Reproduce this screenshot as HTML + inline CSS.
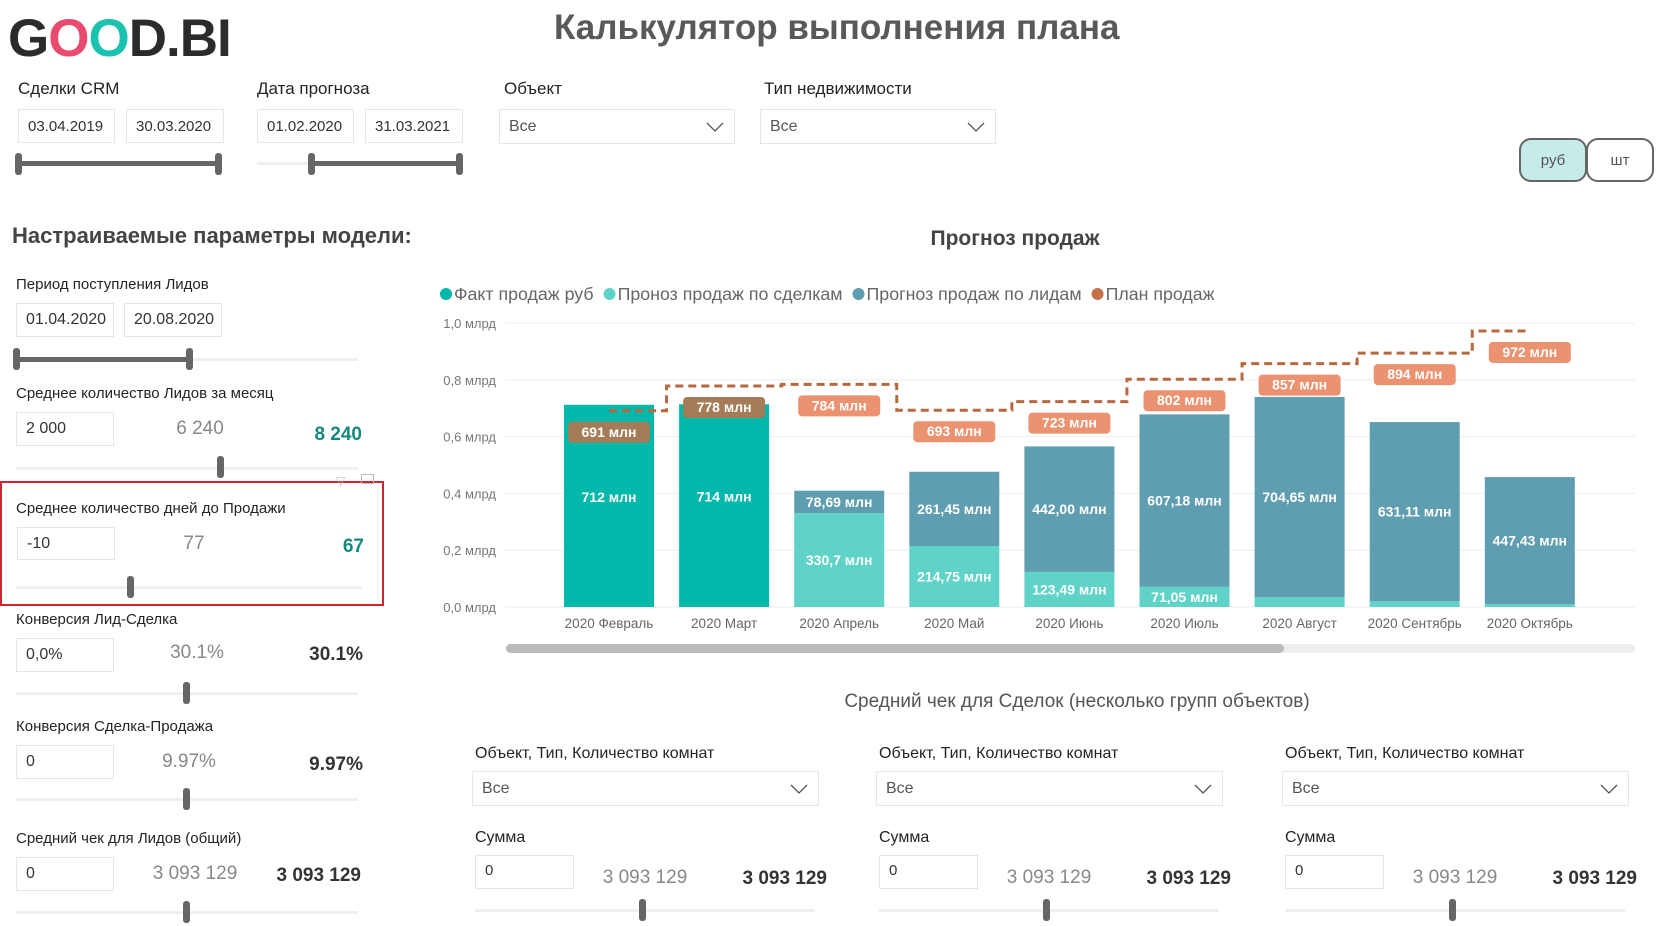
<!DOCTYPE html>
<html lang="ru"><head><meta charset="utf-8">
<style>
*{box-sizing:border-box;margin:0;padding:0}
body{width:1680px;height:926px;overflow:hidden;background:#fff;font-family:"Liberation Sans","DejaVu Sans",sans-serif;color:#333;position:relative}
.a{position:absolute;white-space:nowrap}
.lbl{font-size:17px;color:#252423}
.box{position:absolute;border:1px solid #e6e6e6;background:#fff;font-size:15px;color:#333;padding-left:9px;display:flex;align-items:center}
.dd{position:absolute;border:1px solid #e6e6e6;font-size:16px;color:#555;padding-left:9px;display:flex;align-items:center}
.dd svg{position:absolute;right:10px;top:50%;margin-top:-5px}
.track{position:absolute;height:3px;background:#f0f0f0}
.rng{position:absolute;height:5px;background:#666;border-radius:2px}
.knob{position:absolute;width:7px;height:22px;background:#666;border-radius:3px}
.plbl{font-size:15px;color:#252423}
.mid{font-size:19px;color:#888;transform:translateX(-50%)}
.big{font-size:19px;font-weight:bold;color:#333;transform:translateX(-100%)}
.teal{color:#138a7d}
</style></head><body>
<div class="a" style="left:8px;top:8px;font-size:53px;font-weight:bold;color:#2b2b2b;letter-spacing:-1px">G<span style="color:#e94b6f">O</span><span style="color:#1cc2b0">O</span>D.BI</div>
<div class="a" style="left:554px;top:8px;font-size:35px;font-weight:bold;color:#595959">Калькулятор выполнения плана</div>

<div class="a lbl" style="left:18px;top:79px">Сделки CRM</div>
<div class="box" style="left:18px;top:109px;width:97px;height:34px">03.04.2019</div>
<div class="box" style="left:126px;top:109px;width:98px;height:34px">30.03.2020</div>
<div class="rng" style="left:18px;top:161px;width:202px"></div>
<div class="knob" style="left:15px;top:153px"></div>
<div class="knob" style="left:215px;top:153px"></div>

<div class="a lbl" style="left:257px;top:79px">Дата прогноза</div>
<div class="box" style="left:257px;top:109px;width:97px;height:34px">01.02.2020</div>
<div class="box" style="left:365px;top:109px;width:98px;height:34px">31.03.2021</div>
<div class="track" style="left:257px;top:162px;width:54px"></div>
<div class="rng" style="left:311px;top:161px;width:149px"></div>
<div class="knob" style="left:308px;top:153px"></div>
<div class="knob" style="left:456px;top:153px"></div>

<div class="a lbl" style="left:504px;top:79px">Объект</div>
<div class="dd" style="left:499px;top:109px;width:236px;height:35px">Все<svg width="18" height="10"><path d="M1 1 L9 9 L17 1" fill="none" stroke="#555" stroke-width="1.3"/></svg></div>
<div class="a lbl" style="left:764px;top:79px">Тип недвижимости</div>
<div class="dd" style="left:760px;top:109px;width:236px;height:35px">Все<svg width="18" height="10"><path d="M1 1 L9 9 L17 1" fill="none" stroke="#555" stroke-width="1.3"/></svg></div>

<div class="a" style="left:1519px;top:138px;width:68px;height:44px;border:2px solid #666;border-radius:12px;background:#c5ece8;font-size:15px;color:#555;display:flex;align-items:center;justify-content:center">руб</div>
<div class="a" style="left:1586px;top:138px;width:68px;height:44px;border:2px solid #666;border-radius:12px;background:#fff;font-size:15px;color:#555;display:flex;align-items:center;justify-content:center">шт</div>

<div class="a" style="left:12px;top:223px;font-size:22px;font-weight:bold;color:#444">Настраиваемые параметры модели:</div>

<!-- Left panel -->
<div class="a plbl" style="left:16px;top:276px">Период поступления Лидов</div>
<div class="box" style="left:16px;top:303px;width:98px;height:34px;font-size:16px">01.04.2020</div>
<div class="box" style="left:124px;top:303px;width:98px;height:34px;font-size:16px">20.08.2020</div>
<div class="track" style="left:16px;top:358px;width:342px"></div>
<div class="rng" style="left:16px;top:357px;width:172px"></div>
<div class="knob" style="left:13px;top:348px"></div>
<div class="knob" style="left:186px;top:348px"></div>

<div class="a plbl" style="left:16px;top:385px">Среднее количество Лидов за месяц</div>
<div class="box" style="left:16px;top:412px;width:98px;height:34px;font-size:16px">2 000</div>
<div class="a mid" style="left:200px;top:418px">6 240</div>
<div class="a big teal" style="left:362px;top:424px">8 240</div>
<div class="track" style="left:16px;top:467px;width:342px"></div>
<div class="knob" style="left:217px;top:456px"></div>

<div class="a" style="left:0;top:481px;width:384px;height:125px;border:2px solid #d0242e"></div>
<div class="a" style="left:336px;top:474px;font-size:12px;color:#bbb">▽</div>
<div class="a" style="left:361px;top:474px;width:13px;height:10px;border:1px solid #bbb"></div>
<div class="a plbl" style="left:16px;top:500px">Среднее количество дней до Продажи</div>
<div class="box" style="left:17px;top:527px;width:98px;height:33px;font-size:16px">-10</div>
<div class="a mid" style="left:194px;top:533px">77</div>
<div class="a big teal" style="left:364px;top:536px">67</div>
<div class="track" style="left:16px;top:586px;width:346px"></div>
<div class="knob" style="left:127px;top:576px"></div>

<div class="a plbl" style="left:16px;top:611px">Конверсия Лид-Сделка</div>
<div class="box" style="left:16px;top:638px;width:98px;height:34px;font-size:16px">0,0%</div>
<div class="a mid" style="left:197px;top:642px">30.1%</div>
<div class="a big" style="left:363px;top:644px">30.1%</div>
<div class="track" style="left:16px;top:692px;width:342px"></div>
<div class="knob" style="left:183px;top:682px"></div>

<div class="a plbl" style="left:16px;top:718px">Конверсия Сделка-Продажа</div>
<div class="box" style="left:16px;top:745px;width:98px;height:34px;font-size:16px">0</div>
<div class="a mid" style="left:189px;top:751px">9.97%</div>
<div class="a big" style="left:363px;top:754px">9.97%</div>
<div class="track" style="left:16px;top:798px;width:342px"></div>
<div class="knob" style="left:183px;top:788px"></div>

<div class="a plbl" style="left:16px;top:830px">Средний чек для Лидов (общий)</div>
<div class="box" style="left:16px;top:857px;width:98px;height:34px;font-size:16px">0</div>
<div class="a mid" style="left:195px;top:863px">3 093 129</div>
<div class="a big" style="left:361px;top:865px">3 093 129</div>
<div class="track" style="left:16px;top:911px;width:342px"></div>
<div class="knob" style="left:183px;top:901px"></div>

<!-- Chart -->
<div class="a" style="left:1015px;top:227px;transform:translateX(-50%);font-size:21px;font-weight:bold;color:#444">Прогноз продаж</div>
<svg id="chart" class="a" style="left:0;top:0" width="1680" height="926"></svg>

<!-- Bottom -->
<div class="a" style="left:1077px;top:691px;transform:translateX(-50%);font-size:19px;color:#555">Средний чек для Сделок (несколько групп объектов)</div>
<div id="cols"></div>

<script>
// Chart data
const categories = ["2020 Февраль","2020 Март","2020 Апрель","2020 Май","2020 Июнь","2020 Июль","2020 Август","2020 Сентябрь","2020 Октябрь"];
const factSales = [712, 714, 0, 0, 0, 0, 0, 0, 0];
const dealForecast = [0, 0, 330.7, 214.75, 123.49, 71.05, 35, 20, 10];
const leadForecast = [0, 0, 78.69, 261.45, 442.00, 607.18, 704.65, 631.11, 447.43];
const planSales = [691, 778, 784, 693, 723, 802, 857, 894, 972];
const yTicks = [0, 0.2, 0.4, 0.6, 0.8, 1.0];
const yTickLabels = ["0,0 млрд","0,2 млрд","0,4 млрд","0,6 млрд","0,8 млрд","1,0 млрд"];
const dealLabels = ["","","330,7 млн","214,75 млн","123,49 млн","71,05 млн","","",""];
const leadLabels = ["","","78,69 млн","261,45 млн","442,00 млн","607,18 млн","704,65 млн","631,11 млн","447,43 млн"];

const NS = "http://www.w3.org/2000/svg";
const svg = document.getElementById("chart");
const X0 = 609, STEP = 115.1, BW = 90, Y0 = 607, Y1 = 323;
const xc = i => X0 + i * STEP;
const y = v => Y0 - (v / 1000) * (Y0 - Y1); // v in mln
function mk(tag, attrs, parent) {
  const e = document.createElementNS(NS, tag);
  for (const k in attrs) e.setAttribute(k, attrs[k]);
  (parent || svg).appendChild(e);
  return e;
}
// legend
const legend = [["Факт продаж руб","#01b8aa"],["Проноз продаж по сделкам","#5fd3c8"],["Прогноз продаж по лидам","#5f9db0"],["План продаж","#c5714a"]];
let lx = 440;
legend.forEach(([t, c]) => {
  const g = mk("g", {});
  
  
  mk("circle", {cx: lx + 6, cy: 294, r: 6, fill: c}, g);
  const tx = mk("text", {x: lx + 14, y: 300, "font-size": 17.8, fill: "#666", "font-family": "Liberation Sans, sans-serif"}, g);
  tx.textContent = t;
  lx += 14 + tx.getComputedTextLength() + 10;
});
// gridlines & y axis
yTicks.forEach((t, i) => {
  const gl = mk("line", {x1: 505, x2: 1635, y1: y(t * 1000), y2: y(t * 1000), stroke: "#eee", "stroke-width": 1});
  
  
  const tl = mk("text", {x: 496, y: y(t * 1000) + 5, "text-anchor": "end", "font-size": 13, fill: "#777", "font-family": "Liberation Sans, sans-serif"});
  
  
  tl.textContent = yTickLabels[i];
});
function valText(x, yy, s) {
  const t = mk("text", {x: x, y: yy + 5, "text-anchor": "middle", "font-size": 14, "font-weight": "bold", fill: "#fff", "font-family": "Liberation Sans Narrow, Liberation Sans, sans-serif"});
  
  
  t.textContent = s;
}
// bars
categories.forEach((c, i) => {
  const x = xc(i) - BW / 2;
  let base = 0;
  if (factSales[i] > 0) {
    const r = mk("rect", {x: x, y: y(factSales[i]), width: BW, height: y(0) - y(factSales[i]), fill: "#01b8aa"});
    
    
    valText(xc(i), y(factSales[i] / 2) - 9, Math.round(factSales[i]) + " млн");
    base = factSales[i];
  }
  if (dealForecast[i] > 0) {
    const r = mk("rect", {x: x, y: y(base + dealForecast[i]), width: BW, height: y(base) - y(base + dealForecast[i]), fill: "#5fd3c8"});
    
    
    if (dealLabels[i]) valText(xc(i), y(base + dealForecast[i] / 2), dealLabels[i]);
    base += dealForecast[i];
  }
  if (leadForecast[i] > 0) {
    const r = mk("rect", {x: x, y: y(base + leadForecast[i]), width: BW, height: y(base) - y(base + leadForecast[i]), fill: "#5f9db0"});
    
    
    if (leadLabels[i]) valText(xc(i), y(base + leadForecast[i] / 2), leadLabels[i]);
    base += leadForecast[i];
  }
  const cl = mk("text", {x: xc(i), y: 628, "text-anchor": "middle", "font-size": 13.5, fill: "#666", "font-family": "Liberation Sans, sans-serif"});
  
  
  cl.textContent = c;
});
// plan step line
let d = "M" + xc(0) + " " + y(planSales[0]);
for (let i = 1; i < planSales.length; i++) {
  const mx = (xc(i - 1) + xc(i)) / 2;
  d += " H" + mx + " V" + y(planSales[i]);
}
d += " H" + xc(planSales.length - 1);
const pl = mk("path", {d: d, fill: "none", stroke: "#b8683f", "stroke-width": 3, "stroke-dasharray": "8 5"});


// plan labels
planSales.forEach((p, i) => {
  const cy = y(p) + 21;
  const top = y(factSales[i] + dealForecast[i] + leadForecast[i]);
  const over = cy + 10 > top;
  const r = mk("rect", {x: xc(i) - 41, y: cy - 10, width: 82, height: 21, rx: 4, fill: over ? "#a47c57" : "#eb9270"});
  
  
  const t = mk("text", {x: xc(i), y: cy + 5, "text-anchor": "middle", "font-size": 14, "font-weight": "bold", fill: "#fff", "font-family": "Liberation Sans Narrow, Liberation Sans, sans-serif"});
  
  
  t.textContent = p + " млн";
});
// scrollbar
const sb = mk("rect", {x: 506, y: 644, width: 1129, height: 9, rx: 4.5, fill: "#eee"});


const st = mk("rect", {x: 506, y: 644, width: 778, height: 9, rx: 4.5, fill: "#bbb"});



// bottom columns
const colX = [472, 876, 1282];
const cols = document.getElementById("cols");
colX.forEach((cx, k) => {
  cols.insertAdjacentHTML("beforeend",
  `<div class="a plbl" style="left:${cx+3}px;top:745px;font-size:16px">Объект, Тип, Количество комнат</div>
   <div class="dd" style="left:${cx}px;top:771px;width:347px;height:35px">Все<svg width="18" height="10"><path d="M1 1 L9 9 L17 1" fill="none" stroke="#555" stroke-width="1.3"/></svg></div>
   <div class="a plbl" style="left:${cx+3}px;top:829px;font-size:16px">Сумма</div>
   <div class="box" style="left:${cx+3}px;top:855px;width:99px;height:34px;align-items:flex-start;padding-top:6px">0</div>
   <div class="a mid" style="left:${cx+173}px;top:867px">3 093 129</div>
   <div class="a big" style="left:${cx+355}px;top:868px">3 093 129</div>
   <div class="track" style="left:${cx+3}px;top:909px;width:340px"></div>
   <div class="knob" style="left:${cx+167}px;top:899px"></div>`);
});
</script>
</body></html>
